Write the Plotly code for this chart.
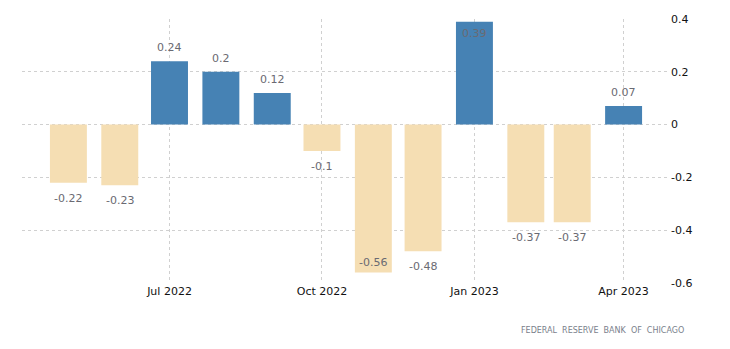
import plotly.graph_objects as go

months = ["2022-05-01", "2022-06-01", "2022-07-01", "2022-08-01", "2022-09-01", "2022-10-01",
          "2022-11-01", "2022-12-01", "2023-01-01", "2023-02-01", "2023-03-01", "2023-04-01"]
values = [-0.22, -0.23, 0.24, 0.2, 0.12, -0.1, -0.56, -0.48, 0.39, -0.37, -0.37, 0.07]
labels = ["-0.22", "-0.23", "0.24", "0.2", "0.12", "-0.1", "-0.56", "-0.48", "0.39", "-0.37", "-0.37", "0.07"]
tick_dates = ["2022-07-01", "2022-10-01", "2023-01-01", "2023-04-01"]
tick_text = ["Jul 2022", "Oct 2022", "Jan 2023", "Apr 2023"]
y_ticks = [0.4, 0.2, 0, -0.2, -0.4, -0.6]
y_text = ["0.4", "0.2", "0", "-0.2", "-0.4", "-0.6"]

colors = ["#4682B4" if v >= 0 else "#F5DEB3" for v in values]
label_color = "#6a6a72"

fig = go.Figure(go.Bar(
    x=months, y=values,
    marker=dict(color=colors, line=dict(width=0)),
    width=22.3 * 86400000,
    hoverinfo="x+y",
))

annotations = []
for m, v, t in zip(months, values, labels):
    if v > 0.35:
        ya, ys = "top", -3
    elif v >= 0:
        ya, ys = "bottom", 5
    elif v < -0.5:
        ya, ys = "bottom", 1
    else:
        ya, ys = "top", -7
    annotations.append(dict(
        x=m, y=v, text=t, xref="x", yref="y", showarrow=False,
        yanchor=ya, yshift=ys, xanchor="center",
        font=dict(family="DejaVu Sans", size=11, color=label_color),
    ))

annotations.append(dict(
    text="FEDERAL  RESERVE  BANK  OF  CHICAGO",
    xref="paper", yref="paper", x=1.025, y=-0.155,
    xanchor="right", yanchor="top", showarrow=False,
    font=dict(family="DejaVu Sans", size=8, color="#7a7f8c"),
))

fig.update_layout(
    width=730, height=349,
    margin=dict(l=22, r=60, t=19, b=66),
    plot_bgcolor="white", paper_bgcolor="white",
    showlegend=False,
    xaxis=dict(
        type="date",
        range=["2022-04-03", "2023-04-29"],
        tickvals=tick_dates, ticktext=tick_text,
        showgrid=True, gridcolor="#d0d0d0", griddash="dot", gridwidth=1,
        zeroline=False, showline=False, ticks="",
        tickfont=dict(family="DejaVu Sans", size=11, color="#111"),
    ),
    yaxis=dict(
        side="right",
        range=[-0.6, 0.4],
        tickvals=y_ticks, ticktext=y_text,
        showgrid=True, gridcolor="#d0d0d0", griddash="dot", gridwidth=1,
        zeroline=False, showline=False, ticks="",
        tickfont=dict(family="DejaVu Sans", size=11, color="#111"),
    ),
    annotations=annotations,
)

fig.write_html("out.html")
